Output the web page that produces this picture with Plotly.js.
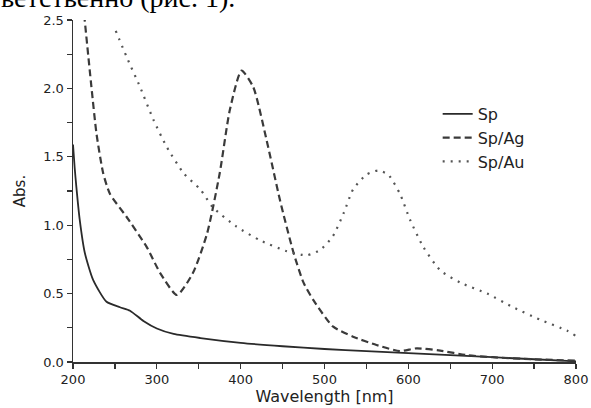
<!DOCTYPE html>
<html>
<head>
<meta charset="utf-8">
<script src="https://cdn.plot.ly/plotly-3.0.1.min.js"></script>
<style>html,body{margin:0;padding:0;background:#fff;}#chart{width:591px;height:408px;}</style>
</head>
<body>
<div id="chart"></div>
<script>
// Sp (solid)
const spX = [200, 202, 204, 208, 214, 224, 240, 256, 268, 284, 300, 320, 352, 400, 450, 500, 550, 600, 650, 700, 750, 800];
const spY = [1.59, 1.42, 1.28, 1.04, 0.80, 0.60, 0.44, 0.40, 0.375, 0.30, 0.245, 0.205, 0.175, 0.14, 0.115, 0.095, 0.08, 0.065, 0.05, 0.035, 0.02, 0.005];

// Sp/Ag (dashed)
const agX = [212, 222, 228, 236, 244, 264, 288, 304, 324, 343, 360, 375, 387, 401, 415, 431, 447, 463, 475, 487, 510, 534, 562, 590, 610, 638, 670, 700, 750, 800];
const agY = [2.62, 2.01, 1.67, 1.38, 1.23, 1.06, 0.84, 0.65, 0.49, 0.65, 0.94, 1.38, 1.84, 2.13, 2.01, 1.62, 1.18, 0.80, 0.58, 0.45, 0.26, 0.185, 0.124, 0.08, 0.10, 0.083, 0.05, 0.035, 0.02, 0.01];

// Sp/Au (dotted)
const auX = [251, 264, 280, 296, 312, 332, 352, 367, 395, 423, 455, 479, 495, 510, 523, 534, 550, 564, 576, 590, 602, 618, 638, 662, 694, 725, 757, 789, 800];
const auY = [2.42, 2.23, 2.01, 1.77, 1.57, 1.38, 1.26, 1.13, 0.99, 0.89, 0.81, 0.78, 0.82, 0.92, 1.09, 1.26, 1.37, 1.40, 1.37, 1.23, 1.04, 0.84, 0.67, 0.58, 0.50, 0.40, 0.31, 0.23, 0.19];

const seriesNames = ["Sp", "Sp/Ag", "Sp/Au"];
const xTicks = [200, 300, 400, 500, 600, 700, 800];
const yTicks = [0.0, 0.5, 1.0, 1.5, 2.0, 2.5];
const yTickText = ["0.0", "0.5", "1.0", "1.5", "2.0", "2.5"];
const topText = "ветственно (рис. 1).";

const sans = "DejaVu Sans, Liberation Sans, Arial, sans-serif";

const traces = [
  {x: spX, y: spY, name: seriesNames[0], mode: "lines", line: {color: "#2a2a2a", width: 1.8, shape: "spline", smoothing: 0.6}},
  {x: agX, y: agY, name: seriesNames[1], mode: "lines", line: {color: "#3a3a3a", width: 2.2, dash: "7px,4px", shape: "spline", smoothing: 0.6}},
  {x: auX, y: auY, name: seriesNames[2], mode: "lines", line: {color: "#555555", width: 2.2, dash: "2px,6px", shape: "spline", smoothing: 0.6}}
];

const layout = {
  width: 591, height: 408,
  margin: {l: 73, r: 15, t: 20, b: 46, pad: 0},
  paper_bgcolor: "#ffffff", plot_bgcolor: "#ffffff",
  font: {family: sans, color: "#222"},
  showlegend: true,
  legend: {x: 0.725, xanchor: "left", y: 0.775, yanchor: "top", bgcolor: "rgba(0,0,0,0)",
           font: {family: sans, size: 16, color: "#222"}, tracegroupgap: 0},
  xaxis: {
    range: [200, 800], tickvals: xTicks, ticktext: xTicks.map(String),
    showgrid: false, zeroline: false, showline: true, linecolor: "#333", linewidth: 1.5,
    ticks: "outside", ticklen: 5, tickwidth: 1.3, tickcolor: "#333",
    minor: {dtick: 50, ticks: "outside", ticklen: 5, tickwidth: 1.3, tickcolor: "#333", showgrid: false},
    tickfont: {family: sans, size: 13, color: "#222"},
    title: {text: "Wavelength [nm]", font: {family: sans, size: 16, color: "#222"}, standoff: 4},
    automargin: false
  },
  yaxis: {
    range: [0, 2.5], tickvals: yTicks, ticktext: yTickText,
    showgrid: false, zeroline: false, showline: true, linecolor: "#333", linewidth: 1.5,
    ticks: "outside", ticklen: 5, tickwidth: 1.3, tickcolor: "#333",
    minor: {dtick: 0.25, ticks: "outside", ticklen: 5, tickwidth: 1.3, tickcolor: "#333", showgrid: false},
    tickfont: {family: sans, size: 13, color: "#222"},
    title: {text: "Abs.", font: {family: sans, size: 15, color: "#222"}, standoff: 14},
    automargin: false
  },
  annotations: [{
    text: topText, xref: "paper", yref: "paper", x: -0.148, y: 1.016,
    xanchor: "left", yanchor: "bottom", showarrow: false,
    font: {family: "Liberation Serif, Times New Roman, serif", size: 28, color: "#000"}
  }]
};

Plotly.newPlot("chart", traces, layout, {displayModeBar: false, staticPlot: true});
</script>
</body>
</html>
